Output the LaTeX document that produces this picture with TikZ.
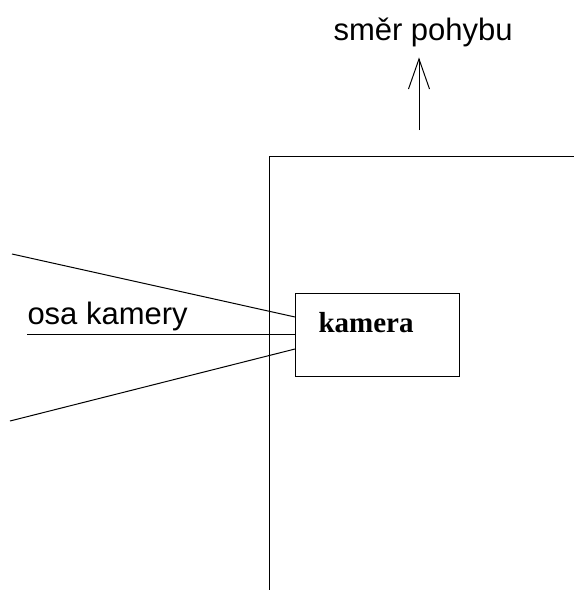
\documentclass[tikz,border=0pt]{standalone}
\usepackage{fontspec}
\setmainfont{Liberation Sans}
\newfontfamily\serifb{Liberation Serif}
\begin{document}
\begin{tikzpicture}[x=1pt,y=-1pt,line width=1pt,
  lbl/.style={inner sep=0pt,anchor=base west,font=\fontsize{31}{31}\selectfont},
  boxst/.style={draw,minimum width=164pt,minimum height=83pt,inner sep=0pt}]
\useasboundingbox (0,0) rectangle (574,590);
% wall
\coordinate (wb) at (269,590);
\coordinate (wc) at (269,156);
\coordinate (wr) at (574,156);
\draw (wb) -- (wc) -- (wr);
% direction arrow
\node[lbl] (dir) at (333,40) {směr pohybu};
\coordinate (as) at (419,130);
\coordinate (at) at (419,59);
\coordinate (al) at (408.5,89);
\coordinate (ar) at (429.5,89);
\draw (as) -- (at);
\draw (al) -- (at) -- (ar);
% camera
\node[boxst] (cam) at (377,334.5) {};
\node[inner sep=0pt,anchor=base west,font=\serifb\bfseries\fontsize{29}{29}\selectfont] (camt) at (318,332) {kamera};
\coordinate (c1) at (295,317);
\coordinate (c2) at (295,334);
\coordinate (c3) at (295,349);
\coordinate (f1) at (12,254);
\coordinate (f2) at (27,334);
\coordinate (f3) at (10,421);
\draw (f1) -- (c1);
\draw (f2) -- (c2);
\draw (f3) -- (c3);
\node[lbl] (axis) at (27,324) {osa kamery};
\end{tikzpicture}
\end{document}
